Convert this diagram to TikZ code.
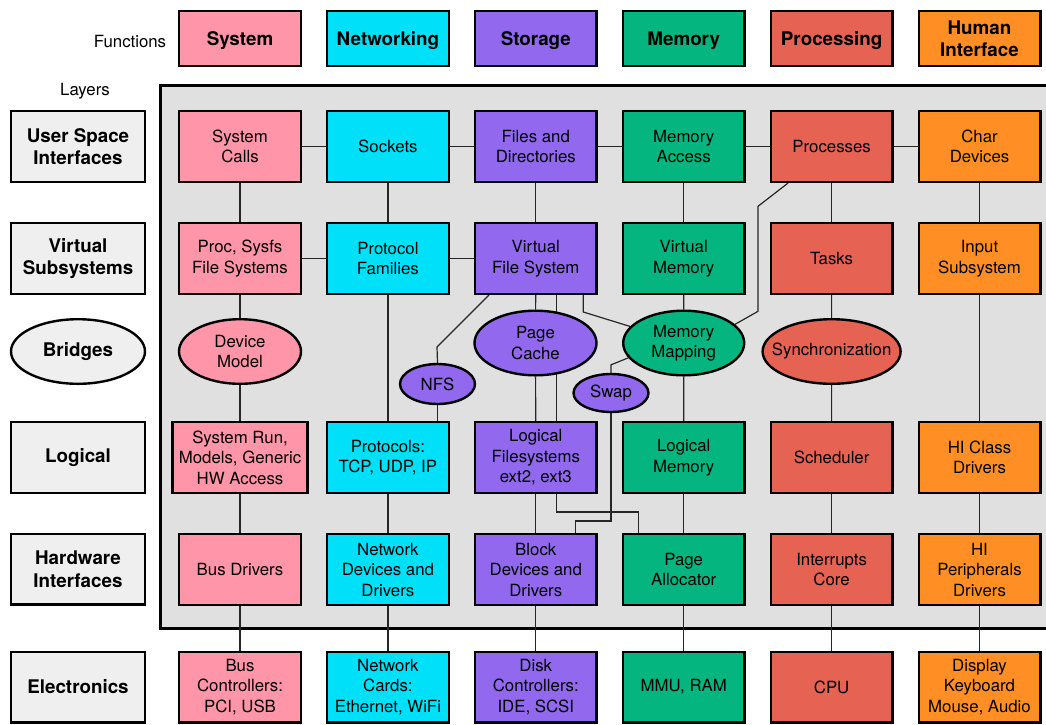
\documentclass[tikz,border=0pt]{standalone}
\usepackage{fontspec}
\setmainfont{TeX Gyre Heros}
\usetikzlibrary{shapes.geometric,calc}
\pgfdeclarelayer{back}
\pgfdeclarelayer{wires}
\pgfsetlayers{back,wires,main}
\definecolor{col1}{HTML}{FF95A8}
\definecolor{col2}{HTML}{00E0F8}
\definecolor{col3}{HTML}{9168EE}
\definecolor{col4}{HTML}{05B57F}
\definecolor{col5}{HTML}{E66253}
\definecolor{col6}{HTML}{FF8F24}
\definecolor{pgray}{HTML}{E0E0E0}
\definecolor{lgray}{HTML}{EFEFEF}
\tikzset{
  txt/.style={font=\fontsize{16.8}{20.5}\selectfont},
  box/.style={txt,draw=black,line width=2.4pt,minimum width=121.6pt,minimum height=70.6pt,inner sep=0pt,align=center},
  fbox/.style={box,minimum height=54.6pt,text depth=0pt,font=\fontsize{18.8}{22.5}\selectfont\bfseries},
  lbox/.style={box,fill=lgray,minimum width=133.6pt,font=\fontsize{18.8}{22.5}\selectfont\bfseries},
  oval/.style={box,ellipse,inner xsep=-15pt,minimum height=64.6pt},
  wire/.style={line width=1.2pt,draw=black!85},
}
\begin{document}
\begin{tikzpicture}[x=1pt,y=-1pt]
\clip (0,0) rectangle (1046,724);
\def\cx{147.9}
\begin{pgfonlayer}{back}
\draw[line width=3pt,fill=pgray] (160,85) rectangle (1070,628);
\end{pgfonlayer}
\node[txt] (fn) at (130,41) {Functions};
\node[txt] (ly) at (85,91) {Layers};
\foreach \i/\t in {1/System,2/Networking,3/Storage,4/Memory,5/Processing,6/{Human\\Interface}}
  \node[fbox,fill=col\i] (f\i) at ({240+\cx*(\i-1)},38.5) {\t};
\foreach \n/\y/\t in {l1/146.5/{User Space\\Interfaces},l2/258.5/{Virtual\\Subsystems},l4/457.5/Logical,l5/569/{Hardware\\Interfaces},l6/687/Electronics}
  \node[lbox] (\n) at (78,\y) {\t};
\node[oval,fill=lgray,font=\fontsize{18.8}{22.5}\selectfont\bfseries,minimum width=134pt] (l3) at (78,351.5) {Bridges};
\foreach \n/\i/\t in {sc/1/{System\\Calls},sock/2/Sockets,files/3/{Files and\\Directories},macc/4/{Memory\\Access},procs/5/Processes,chard/6/{Char\\Devices}}
  \node[box,fill=col\i] (\n) at ({240+\cx*(\i-1)},146.5) {\t};
\foreach \n/\i/\t in {procfs/1/{Proc, Sysfs\\File Systems},protfam/2/{Protocol\\Families},vfs/3/{Virtual\\File System},vmem/4/{Virtual\\Memory},tasks/5/Tasks,input/6/{Input\\Subsystem}}
  \node[box,fill=col\i] (\n) at ({240+\cx*(\i-1)},258.5) {\t};
\node[box,fill=col1,minimum width=135pt] (sysrun) at (240,457.5) {System Run,\\Models, Generic\\HW Access};
\foreach \n/\i/\t in {protos/2/{Protocols:\\TCP, UDP, IP},lfs/3/{Logical\\Filesystems\\ext2, ext3},lmem/4/{Logical\\Memory},sched/5/Scheduler,hicd/6/{HI Class\\Drivers}}
  \node[box,fill=col\i] (\n) at ({240+\cx*(\i-1)},457.5) {\t};
\foreach \n/\i/\t in {busdrv/1/Bus Drivers,netdev/2/{Network\\Devices and\\Drivers},blkdev/3/{Block\\Devices and\\Drivers},palloc/4/{Page\\Allocator},irq/5/{Interrupts\\Core},hiper/6/{HI\\Peripherals\\Drivers}}
  \node[box,fill=col\i] (\n) at ({240+\cx*(\i-1)},569.5) {\t};
\foreach \n/\i/\t in {busctl/1/{Bus\\Controllers:\\PCI, USB},netcard/2/{Network\\Cards:\\Ethernet, WiFi},diskctl/3/{Disk\\Controllers:\\IDE, SCSI},mmu/4/{MMU, RAM},cpu/5/CPU,display/6/{Display\\Keyboard\\Mouse, Audio}}
  \node[box,fill=col\i] (\n) at ({240+\cx*(\i-1)},687) {\t};
\node[oval,fill=col1,minimum width=122pt] (devmodel) at (240,351.5) {Device\\Model};
\node[oval,fill=col3,minimum width=122pt] (pcache) at (535.5,343) {Page\\Cache};
\node[oval,fill=col4,minimum width=121pt] (mmap) at (683.7,343) {Memory\\Mapping};
\node[oval,fill=col5,minimum width=138pt] (sync) at (831.6,351.5) {Synchronization};
\node[oval,fill=col3,minimum width=75pt,minimum height=40pt] (nfs) at (437.5,384) {NFS};
\node[oval,fill=col3,minimum width=75pt,minimum height=38pt] (swap) at (611,393) {Swap};
\begin{pgfonlayer}{wires}
\foreach \a/\b in {sc/sock,sock/files,files/macc,macc/procs,procs/chard,procfs/protfam,protfam/vfs,
  sc/procfs,procfs/devmodel,devmodel/sysrun,sysrun/busdrv,busdrv/busctl,
  sock/protfam,protfam/protos,protos/netdev,netdev/netcard,
  files/vfs,vfs/pcache,pcache/lfs,lfs/blkdev,blkdev/diskctl,
  macc/vmem,vmem/mmap,mmap/lmem,lmem/palloc,palloc/mmu,
  procs/tasks,tasks/sync,sync/sched,sched/irq,irq/cpu,
  chard/input,input/hicd,hicd/hiper,hiper/display}
  \draw[wire] (\a) -- (\b);
\draw[wire] ([xshift=-46.8pt]vfs.south) -- ++(-52,52) -- (nfs.north);
\draw[wire] (nfs) -- (nfs |- protos.north);
\draw[wire] ([xshift=20.5pt]vfs.south) -- ([xshift=20.5pt]lfs.north);
\draw[wire] ([xshift=47.5pt]vfs.south) -- ++(0,17) -- (mmap);
\draw[wire] (mmap.195) -- ([yshift=8pt]swap.north) -- (swap.north);
\draw[wire] (swap.south) |- ([xshift=39.5pt,yshift=12pt]blkdev.north) -- ([xshift=39.5pt]blkdev.north);
\draw[wire] ([xshift=20.5pt]lfs.south) |- ([xshift=-45pt,yshift=21pt]palloc.north) -- ([xshift=-45pt]palloc.north);
\draw[wire] (mmap.20) -- ++(23,-13) -- ++(0,-105) -- ([xshift=-43.5pt]procs.south);
\end{pgfonlayer}
\end{tikzpicture}
\end{document}
